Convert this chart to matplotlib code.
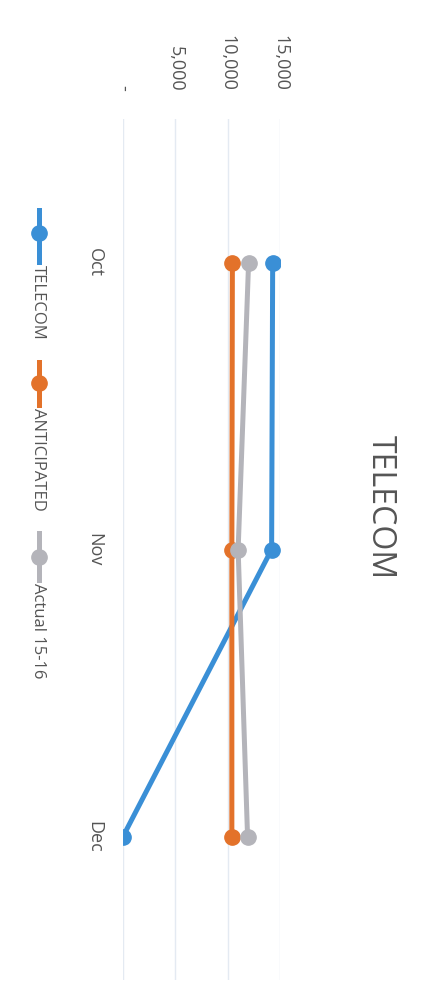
import numpy as np
import matplotlib
matplotlib.use('agg')
import matplotlib.pyplot as plt
from matplotlib.lines import Line2D

plt.rcParams['font.family'] = ['Open Sans', 'DejaVu Sans']

# chart data (scanned sideways, so values run left->right, months top->bottom)
months = ['Oct', 'Nov', 'Dec']
telecom = [14300, 14200, 0]
anticipated = [10450, 10400, 10400]
actual = [12000, 11000, 11900]
series_names = ['TELECOM', 'ANTICIPATED', 'Actual 15-16']
colors = ['#3a8fd6', '#e3722a', '#b4b4ba']
value_ticks = [0, 5000, 10000, 15000]
value_labels = ['-', '5,000', '10,000', '15,000']

W, H = 425, 983
fig = plt.figure(figsize=(W / 100, H / 100), dpi=100)

def fx(x):
    return x / W

def fy(y):
    return 1 - y / H

ax = fig.add_axes([fx(123), fy(980), fx(280) - fx(123), fy(119) - fy(980)])

idx = np.arange(len(months))
for vals, c in zip([telecom, anticipated, actual], colors):
    ax.plot(vals, idx, color=c, lw=3.6, marker='o', ms=11, solid_capstyle='round')

ax.set_xlim(0, 15000)
ax.set_ylim(len(months) - 0.5, -0.5)
ax.set_xticks(value_ticks)
ax.set_xticklabels(value_labels, rotation=270, fontsize=13, color='#555555')
ax.xaxis.tick_top()
ax.tick_params(axis='x', length=0, pad=20)
ax.set_yticks(idx)
ax.set_yticklabels(months, rotation=270, fontsize=13, color='#555555', va='center')
ax.tick_params(axis='y', length=0, pad=14)
ax.grid(axis='x', color='#e4eaf2', lw=1)
ax.set_axisbelow(True)
for s in ax.spines.values():
    s.set_visible(False)

# title, rotated like the scan
fig.text(fx(380), fy(507), 'TELECOM', rotation=270, fontsize=23,
         color='#555555', ha='center', va='center')

# legend drawn by hand (vertical)
leg = [(210, 262, 233, 265), (362, 405, 383, 408), (533, 580, 557, 583)]
for (y0, y1, ym, yt), name, c in zip(leg, series_names, colors):
    fig.add_artist(Line2D([fx(39), fx(39)], [fy(y0), fy(y1)], color=c, lw=3.6,
                          transform=fig.transFigure))
    fig.add_artist(Line2D([fx(39)], [fy(ym)], color=c, marker='o', ms=11,
                          transform=fig.transFigure))
    fig.text(fx(38), fy(yt), name, rotation=270, fontsize=12, color='#555555',
             ha='center', va='top')

fig.savefig('out.png', dpi=100, facecolor='white')
